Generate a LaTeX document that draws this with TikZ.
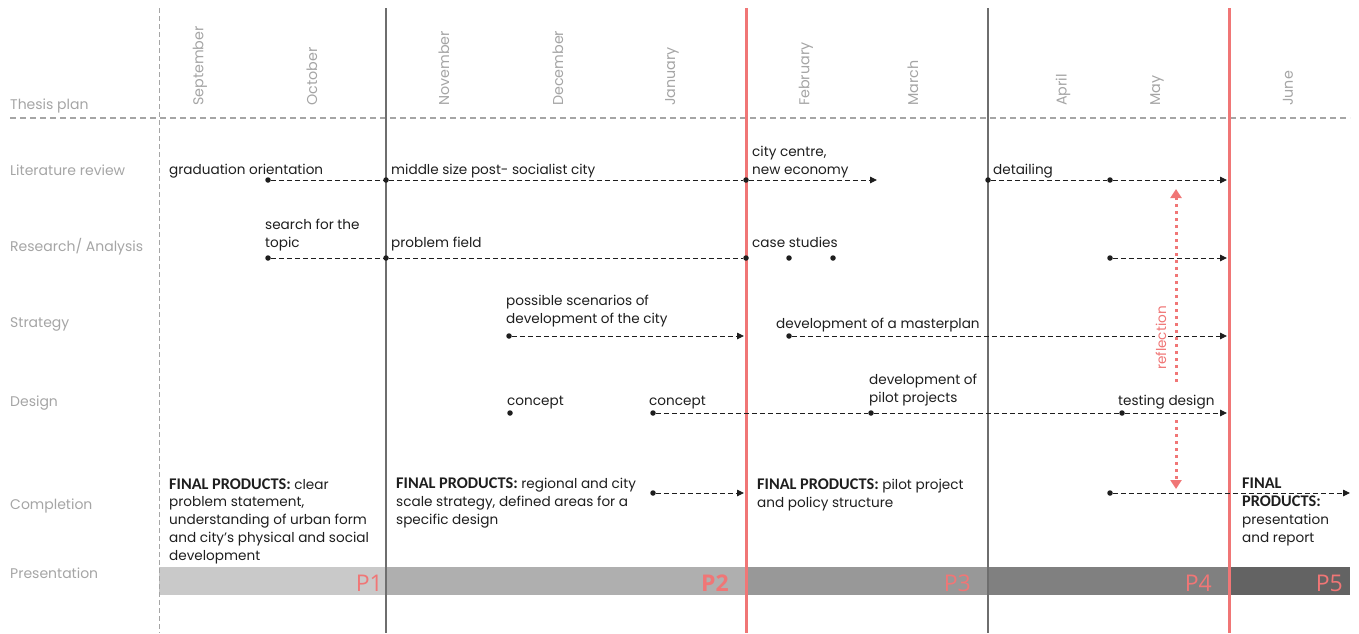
\documentclass[tikz,border=0pt]{standalone}
\usepackage{fontspec}
\setmainfont{Poppins}
\newfontfamily\headfont{Carlito}
\newfontfamily\phasefont{Open Sans}
\usetikzlibrary{arrows.meta,positioning}
\definecolor{myred}{RGB}{240,118,118}
\definecolor{mygrey}{RGB}{165,165,165}
\definecolor{myline}{RGB}{110,110,110}
\definecolor{myink}{RGB}{30,30,30}
\tikzset{
  rowlabel/.style={anchor=base west,inner sep=0,text=mygrey,font=\fontsize{14}{16}\selectfont},
  monthlabel/.style={rotate=90,anchor=west,inner sep=0,text=mygrey,font=\fontsize{14.3}{16}\selectfont},
  task/.style={anchor=base west,inner sep=0,align=left,text=myink,font=\fontsize{13.6}{17.7}\selectfont},
  dot/.style={circle,fill=myink,inner sep=0,minimum size=5.5pt},
  flow/.style={draw=myink,line width=0.9pt,dash pattern=on 5pt off 3pt},
  flowto/.style={flow,-{Triangle[length=7pt,width=6.5pt]}},
  phaseline/.style={draw=myline,line width=1.6pt},
  milestone/.style={draw=myred,line width=3pt},
  reflect/.style={draw=myred,line width=3pt,dash pattern=on 3pt off 4pt,-{Triangle[length=9pt,width=11pt]}},
  phase/.style={text=myred,font=\phasefont\fontsize{23}{23}\selectfont,inner sep=0,anchor=base east}
}
\newcommand{\fphead}[1]{{\headfont\bfseries\fontsize{16.3}{17.7}\selectfont #1}}
\newcommand{\fp}{\fphead{FINAL PRODUCTS:}}

\begin{document}
\begin{tikzpicture}[x=1pt,y=-1pt]
\useasboundingbox (0,0) rectangle (1359,633);

% presentation bar
\fill[gray!42] (159,567) rectangle (386,595);
\fill[gray!63] (386,567) rectangle (746,595);
\fill[gray!81] (746,567) rectangle (988,595);
\fill[gray!100] (988,567) rectangle (1229,595);
\fill[black!61] (1229,567) rectangle (1350,595);
\node[phase] (p1) at (383,591) {P1};
\node[phase,font=\phasefont\bfseries\fontsize{23}{23}\selectfont] (p2) at (729,591) {P2};
\node[phase] (p3) at (971,591) {P3};
\node[phase] (p4) at (1212,591) {P4};
\node[phase] (p5) at (1343,591) {P5};

% grid
\draw[mygrey,line width=1.4pt,dash pattern=on 6pt off 4pt] (10,118) -- (1350,118);
\draw[mygrey,line width=0.8pt,dash pattern=on 5pt off 3pt] (159,8) -- (159,633);
\draw[phaseline] (386,8) -- (386,633);
\draw[phaseline] (988,8) -- (988,633);
\draw[milestone] (746,8) -- (746,633);
\draw[milestone] (1229,8) -- (1229,633);

\foreach \x/\m in {200/September,312/October,444/November,558/December,672/January,
                   806/February,913/March,1063/April,1157/May,1288/June}
  \node[monthlabel] (m-\m) at (\x,106) {\m};

\foreach \y/\r/\t in {109/plan/Thesis plan,175/lit/Literature review,251/res/{Research/ Analysis},
                      327/str/Strategy,406/des/Design,509/com/Completion,578/pre/Presentation}
  \node[rowlabel] (row-\r) at (10,\y) {\t};

% literature review
\node[dot] (lit1) at (268,180) {};
\node[dot] (lit2) at (386,180) {};
\node[dot] (lit3) at (746,180) {};
\coordinate (lit4) at (877,180);
\node[dot] (lit5) at (988,180) {};
\node[dot] (lit6) at (1110,180) {};
\coordinate (lit7) at (1227,180);
\draw[flow] (lit1) -- (lit2) -- (lit3);
\draw[flowto] (lit3) -- (lit4);
\draw[flow] (lit5) -- (lit6);
\draw[flowto] (lit6) -- (lit7);
\node[task] at (169,174) {graduation orientation};
\node[task] at (391,174) {middle size post- socialist city};
\node[task] at (752,174) {city centre,\\new economy};
\node[task] at (993,174) {detailing};

% research
\node[dot] (res1) at (268,258) {};
\node[dot] (res2) at (386,258) {};
\node[dot] (res3) at (746,258) {};
\node[dot] (res4) at (789,258) {};
\node[dot] (res5) at (833,258) {};
\node[dot] (res6) at (1110,258) {};
\coordinate (res7) at (1227,258);
\draw[flow] (res1) -- (res2) -- (res3);
\draw[flowto] (res6) -- (res7);
\node[task] at (265,247) {search for the\\topic};
\node[task] at (391,247) {problem field};
\node[task] at (752,247) {case studies};

% strategy
\node[dot] (str1) at (509,336) {};
\coordinate (str2) at (744,336);
\node[dot] (str3) at (789,336) {};
\coordinate (str4) at (1227,336);
\draw[flowto] (str1) -- (str2);
\draw[flowto] (str3) -- (str4);
\node[task] at (506,323) {possible scenarios of\\development of the city};
\node[task] at (776,328) {development of a masterplan};

% design
\node[dot] (des1) at (510,413) {};
\node[dot] (des2) at (653,413) {};
\node[dot] (des3) at (871,413) {};
\node[dot] (des4) at (1122,413) {};
\coordinate (des5) at (1227,413);
\draw[flow] (des2) -- (des3) -- (des4);
\draw[flowto] (des4) -- (des5);
\node[task] at (507,405) {concept};
\node[task] at (649,405) {concept};
\node[task] at (869,402) {development of\\pilot projects};
\node[task] at (1118,405) {testing design};

% completion
\node[dot] (com1) at (653,493) {};
\coordinate (com2) at (744,493);
\node[dot] (com3) at (1110,493) {};
\coordinate (com4) at (1350,493);
\draw[flowto] (com1) -- (com2);
\draw[flowto] (com3) -- (com4);
\node[task] at (169,560) {\fp{} clear\\problem statement,\\understanding of urban form\\and city’s physical and social\\development};
\node[task] at (396,524) {\fp{} regional and city\\scale strategy, defined areas for a\\specific design};
\node[task] at (757,507) {\fp{} pilot project\\and policy structure};
\node[task] at (1242,542) {\fphead{FINAL}\\\fphead{PRODUCTS:}\\presentation\\and report};

% reflection
\coordinate (ref1) at (1176,382);
\coordinate (ref2) at (1176,189);
\coordinate (ref3) at (1176,420);
\coordinate (ref4) at (1176,489);
\draw[reflect] (ref1) -- (ref2);
\draw[reflect] (ref3) -- (ref4);
\node[rotate=90,fill=white,inner sep=1pt,text=myred,font=\fontsize{13.6}{15}\selectfont] (refl) at (1161,338) {reflection};
\end{tikzpicture}
\end{document}
